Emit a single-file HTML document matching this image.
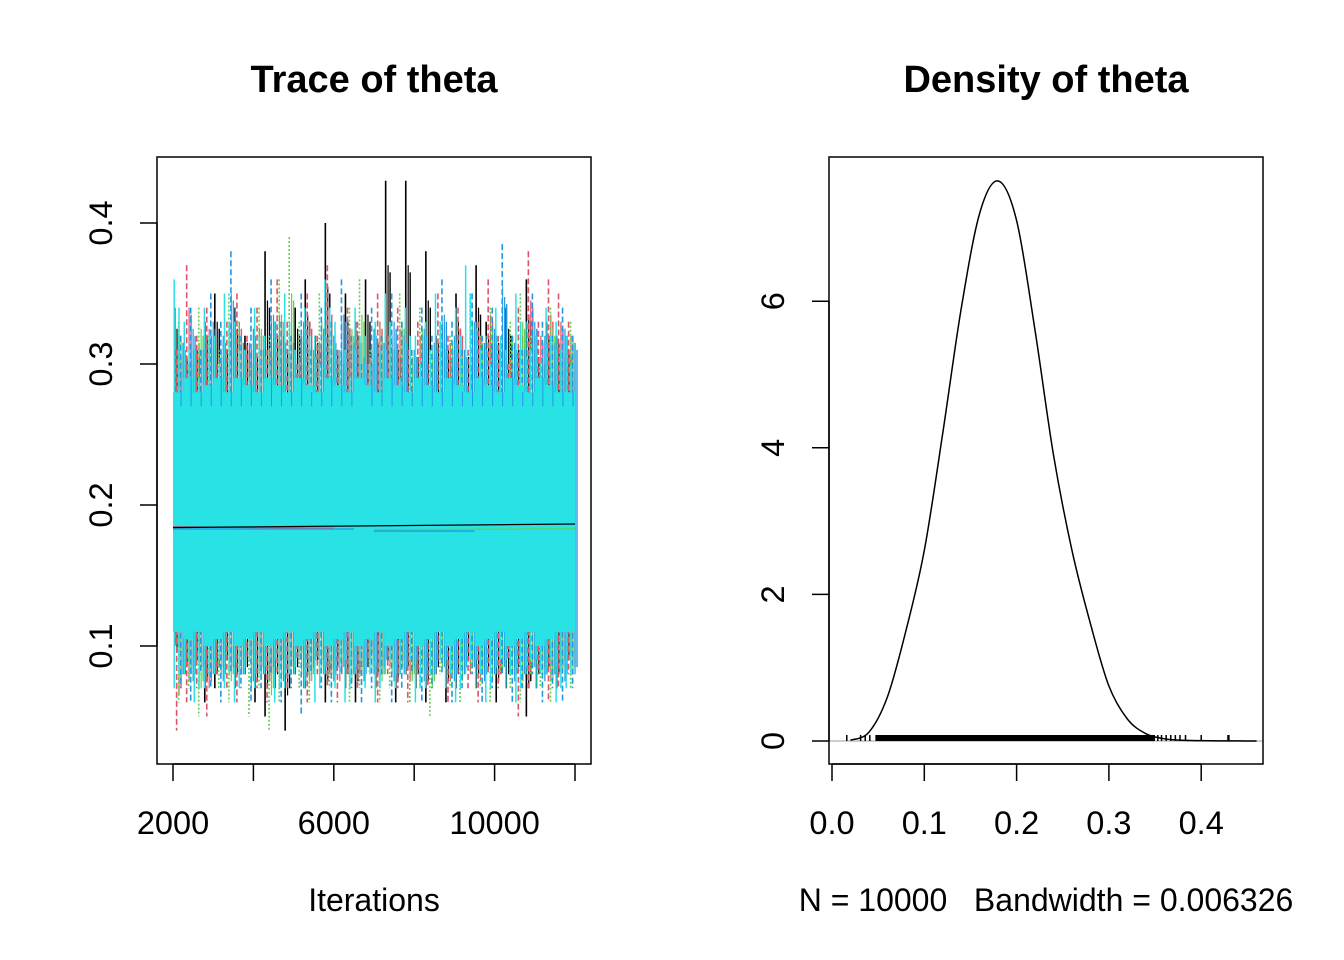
<!DOCTYPE html>
<html><head><meta charset="utf-8"><style>
html,body{margin:0;padding:0;background:#fff;}
svg{display:block;font-family:"Liberation Sans",Arial,sans-serif;}
</style></head><body>
<svg id="chart" width="1344" height="960" viewBox="0 0 1344 960">
<g id="trace"></g>
<g id="dens"></g>
</svg>
<script>
// ---------- trace data (per-bin extremes, 40 bins of 250 iterations) ----------
const iterStart = 2000, binSize = 250;
const blackHi=[0.34,0.30,0.31,0.33,0.35,0.31,0.34,0.32,0.30,0.38,0.33,0.31,0.34,0.36,0.32,0.40,0.31,0.35,0.33,0.36,0.32,0.43,0.31,0.43,0.30,0.38,0.32,0.31,0.35,0.30,0.37,0.33,0.32,0.34,0.31,0.36,0.30,0.33,0.32,0.31];
const blackLo=[0.10,0.08,0.09,0.06,0.07,0.09,0.07,0.08,0.06,0.05,0.07,0.04,0.08,0.07,0.09,0.06,0.08,0.07,0.06,0.08,0.07,0.09,0.06,0.08,0.07,0.06,0.08,0.06,0.07,0.09,0.07,0.08,0.06,0.07,0.08,0.05,0.07,0.08,0.07,0.09];
const redHi=[0.31,0.37,0.32,0.34,0.30,0.33,0.35,0.32,0.34,0.31,0.36,0.33,0.30,0.35,0.32,0.37,0.31,0.34,0.33,0.30,0.35,0.32,0.34,0.31,0.33,0.30,0.35,0.32,0.34,0.31,0.33,0.36,0.32,0.30,0.34,0.38,0.33,0.36,0.35,0.33];
const redLo=[0.04,0.06,0.07,0.05,0.08,0.07,0.06,0.09,0.07,0.06,0.08,0.07,0.09,0.06,0.08,0.07,0.06,0.08,0.07,0.09,0.06,0.08,0.07,0.06,0.08,0.07,0.09,0.06,0.08,0.07,0.06,0.08,0.07,0.09,0.05,0.07,0.08,0.06,0.07,0.08];
const greenHi=[0.33,0.30,0.34,0.32,0.31,0.35,0.33,0.30,0.34,0.32,0.36,0.39,0.33,0.31,0.35,0.32,0.30,0.34,0.36,0.31,0.33,0.32,0.35,0.30,0.34,0.31,0.33,0.32,0.30,0.35,0.32,0.34,0.31,0.33,0.35,0.32,0.30,0.34,0.31,0.33];
const greenLo=[0.06,0.07,0.05,0.08,0.07,0.06,0.08,0.05,0.07,0.04,0.06,0.08,0.07,0.06,0.08,0.07,0.09,0.06,0.07,0.08,0.06,0.07,0.08,0.06,0.07,0.05,0.08,0.07,0.06,0.08,0.07,0.06,0.08,0.07,0.06,0.08,0.07,0.06,0.08,0.07];
const blueHi=[0.32,0.34,0.31,0.35,0.33,0.38,0.32,0.34,0.31,0.36,0.33,0.32,0.35,0.31,0.34,0.33,0.36,0.32,0.30,0.34,0.32,0.35,0.33,0.31,0.34,0.32,0.36,0.33,0.31,0.35,0.32,0.34,0.385,0.32,0.31,0.35,0.33,0.32,0.34,0.32];
const blueLo=[0.07,0.06,0.08,0.07,0.06,0.08,0.07,0.06,0.07,0.08,0.06,0.07,0.05,0.08,0.07,0.06,0.08,0.07,0.06,0.07,0.08,0.06,0.07,0.08,0.06,0.07,0.08,0.06,0.07,0.08,0.06,0.07,0.08,0.06,0.07,0.08,0.06,0.07,0.06,0.07];
const cyanHi=[0.36,0.33,0.31,0.34,0.32,0.35,0.33,0.31,0.34,0.32,0.33,0.35,0.31,0.34,0.32,0.36,0.33,0.31,0.34,0.32,0.33,0.35,0.31,0.34,0.32,0.33,0.35,0.31,0.34,0.37,0.33,0.32,0.34,0.31,0.35,0.33,0.32,0.34,0.33,0.32];
const cyanLo=[0.07,0.08,0.06,0.07,0.08,0.07,0.06,0.08,0.07,0.08,0.06,0.07,0.08,0.07,0.06,0.08,0.07,0.06,0.08,0.07,0.06,0.08,0.07,0.08,0.06,0.07,0.08,0.07,0.06,0.08,0.07,0.06,0.08,0.07,0.06,0.08,0.07,0.08,0.06,0.07];
const coreHi=[0.28,0.29,0.28,0.285,0.29,0.28,0.29,0.285,0.28,0.29,0.285,0.28,0.29,0.285,0.28,0.29,0.285,0.28,0.29,0.285,0.28,0.29,0.285,0.28,0.29,0.285,0.28,0.29,0.285,0.28,0.29,0.285,0.28,0.29,0.285,0.28,0.29,0.285,0.28,0.28];
const coreLo=[0.11,0.105,0.11,0.10,0.105,0.11,0.10,0.105,0.11,0.10,0.105,0.11,0.10,0.105,0.11,0.10,0.105,0.11,0.10,0.105,0.11,0.10,0.105,0.11,0.10,0.105,0.11,0.10,0.105,0.11,0.10,0.105,0.11,0.10,0.105,0.11,0.10,0.105,0.11,0.11];
const traceXTicks=[2000,4000,6000,8000,10000,12000];
const traceXLabels=["2000","6000","10000"];
const traceYTicks=[0.1,0.2,0.3,0.4];
// ---------- density data ----------
const densX=[0.02,0.04,0.06,0.08,0.10,0.12,0.14,0.16,0.18,0.20,0.22,0.24,0.26,0.28,0.30,0.32,0.34,0.36,0.38,0.40,0.42,0.44,0.46];
const densY=[0.01,0.12,0.6,1.5,2.6,4.2,5.9,7.2,7.64,7.1,5.6,3.9,2.6,1.6,0.75,0.3,0.1,0.03,0.01,0.005,0.002,0.001,0];
const rugDenseFrom=0.047, rugDenseTo=0.35;
const rugSparse=[0.016,0.031,0.036,0.041,0.353,0.357,0.362,0.367,0.372,0.377,0.383,0.4,0.429,0.43];
const densXTicks=[0.0,0.1,0.2,0.3,0.4];
const densYTicks=[0,2,4,6];

const NS="http://www.w3.org/2000/svg";
function mk(parent,tag,attrs,text){const e=document.createElementNS(NS,tag);for(const k in attrs)e.setAttribute(k,attrs[k]);if(text!==undefined)e.textContent=text;parent.appendChild(e);return e;}

// ---------- trace panel ----------
const T=document.getElementById('trace');
const tx=v=>173+(v-2000)*(575-173)/10000;
const ty=v=>646-(v-0.1)*1410;
const cols=["#000000","#DF536B","#61D04F","#2297E6","#28E2E5"];
const his=[blackHi,redHi,greenHi,blueHi,cyanHi], los=[blackLo,redLo,greenLo,blueLo,cyanLo];
const names=['chain-1','chain-2','chain-3','chain-4','chain-5'];
const offs=[40,90,140,190,230];
for(let c=0;c<4;c++){
  const g=mk(T,'g',{});
  
  
  for(let i=0;i<his[c].length;i++){
    const x=tx(iterStart+i*binSize+offs[c]);
    mk(g,'line',{x1:x,x2:x,y1:ty(his[c][i]),y2:ty(los[c][i]),stroke:cols[c],'stroke-width':1.6,'stroke-dasharray':c===0?'':(c===2?'2,2':'6,3')});
    const x2=tx(iterStart+i*binSize+offs[c]+110);
    mk(g,'line',{x1:x2,x2:x2,y1:ty((his[c][i]+0.3)/2),y2:ty((los[c][i]+0.1)/2),stroke:cols[c],'stroke-width':1.4});
    const x3=tx(iterStart+i*binSize+offs[c]+60);
    mk(g,'line',{x1:x3,x2:x3,y1:ty((his[c][i]+0.31)/2),y2:ty((los[c][i]+0.09)/2),stroke:cols[c],'stroke-width':1.2});
  }
}
// cyan core band
let pts=[];
for(let i=0;i<coreHi.length;i++){pts.push(tx(iterStart+i*binSize)+','+ty(coreHi[i]));pts.push(tx(iterStart+(i+1)*binSize)+','+ty(coreHi[i]));}
for(let i=coreLo.length-1;i>=0;i--){pts.push(tx(iterStart+(i+1)*binSize)+','+ty(coreLo[i]));pts.push(tx(iterStart+i*binSize)+','+ty(coreLo[i]));}
const core=mk(T,'polygon',{points:pts.join(' '),fill:'#28E2E5'});


const cg=mk(T,'g',{});


for(let i=0;i<cyanHi.length;i++){
  for(const o of [30,150]){
    const x=tx(iterStart+i*binSize+o);
    mk(cg,'line',{x1:x,x2:x,y1:ty(cyanHi[i]-(o>100?0.02:0)),y2:ty(cyanLo[i]+(o>100?0.01:0)),stroke:'#28E2E5','stroke-width':1.5});
  }
  const x=tx(iterStart+i*binSize+200);
  mk(cg,'line',{x1:x,x2:x,y1:ty(blueHi[i]-0.03),y2:ty(0.27),stroke:'#2297E6','stroke-width':1});
}
// near-horizontal artifact lines
const hl=[[2000,0.1845,6000,0.1835,'#DF536B'],[2000,0.184,12000,0.1865,'#000000'],[7000,0.1825,12000,0.183,'#61D04F'],[2000,0.183,6500,0.183,'#2297E6'],[7000,0.1815,9500,0.1815,'#2297E6']];
hl.forEach(h=>mk(T,'line',{x1:tx(h[0]),x2:tx(h[2]),y1:ty(h[1]),y2:ty(h[3]),stroke:h[4],'stroke-width':1.3}));
// frame & axes
const tb=mk(T,'rect',{x:157,y:157,width:434,height:607,fill:'none',stroke:'#000','stroke-width':1.5});

mk(T,'line',{x1:tx(2000),x2:tx(12000),y1:764,y2:764,stroke:'#000','stroke-width':1.5});
traceXTicks.forEach(v=>mk(T,'line',{x1:tx(v),x2:tx(v),y1:764,y2:781,stroke:'#000','stroke-width':1.5}));
traceXLabels.forEach(s=>{const t=mk(T,'text',{x:tx(+s),y:834,'font-size':32.5,'text-anchor':'middle'},s);});
mk(T,'line',{x1:157,x2:157,y1:ty(0.1),y2:ty(0.4),stroke:'#000','stroke-width':1.5});
traceYTicks.forEach(v=>{mk(T,'line',{x1:140,x2:157,y1:ty(v),y2:ty(v),stroke:'#000','stroke-width':1.5});
  const t=mk(T,'text',{x:112,y:ty(v),'font-size':32.5,'text-anchor':'middle',transform:`rotate(-90 112 ${ty(v)})`},v.toFixed(1));});
let t1=mk(T,'text',{x:374,y:92,'font-size':38,'font-weight':'bold','text-anchor':'middle'},'Trace of theta');

let t2=mk(T,'text',{x:374,y:911,'font-size':32,'text-anchor':'middle'},'Iterations');


// ---------- density panel ----------
const D=document.getElementById('dens');
const dx=v=>832+v*923;
const dy=v=>741-v*73.3;
const base=mk(D,'line',{x1:829,x2:1263,y1:741,y2:741,stroke:'#bebebe','stroke-width':1.5});

const P=densX.map((v,i)=>[dx(v),dy(densY[i])]);
let d='M'+P[0][0]+','+P[0][1];
for(let i=0;i<P.length-1;i++){const p0=P[Math.max(0,i-1)],p1=P[i],p2=P[i+1],p3=P[Math.min(P.length-1,i+2)];
 d+=` C${p1[0]+(p2[0]-p0[0])/6},${p1[1]+(p2[1]-p0[1])/6} ${p2[0]-(p3[0]-p1[0])/6},${p2[1]-(p3[1]-p1[1])/6} ${p2[0]},${p2[1]}`;}
const curve=mk(D,'path',{d:d,fill:'none',stroke:'#000','stroke-width':1.5});

const rug=mk(D,'rect',{x:dx(rugDenseFrom),y:735,width:dx(rugDenseTo)-dx(rugDenseFrom),height:6,fill:'#000'});

rugSparse.forEach(v=>{const r=mk(D,'line',{x1:dx(v),x2:dx(v),y1:735,y2:741,stroke:'#000','stroke-width':1.5});});
const db=mk(D,'rect',{x:829,y:157,width:434,height:607,fill:'none',stroke:'#000','stroke-width':1.5});

mk(D,'line',{x1:dx(0),x2:dx(0.4),y1:764,y2:764,stroke:'#000','stroke-width':1.5});
densXTicks.forEach(v=>{mk(D,'line',{x1:dx(v),x2:dx(v),y1:764,y2:781,stroke:'#000','stroke-width':1.5});
 const t=mk(D,'text',{x:dx(v),y:834,'font-size':32.5,'text-anchor':'middle'},v.toFixed(1));});
mk(D,'line',{x1:829,x2:829,y1:dy(0),y2:dy(6),stroke:'#000','stroke-width':1.5});
densYTicks.forEach(v=>{mk(D,'line',{x1:812,x2:829,y1:dy(v),y2:dy(v),stroke:'#000','stroke-width':1.5});
 const t=mk(D,'text',{x:784,y:dy(v),'font-size':32.5,'text-anchor':'middle',transform:`rotate(-90 784 ${dy(v)})`},String(v));});
let t3=mk(D,'text',{x:1046,y:92,'font-size':38,'font-weight':'bold','text-anchor':'middle'},'Density of theta');

let t4=mk(D,'text',{x:1046,y:911,'font-size':32,'text-anchor':'middle'},'N = 10000   Bandwidth = 0.006326');

t4.setAttribute('xml:space','preserve');t4.style.whiteSpace='pre';
</script>
</body></html>
